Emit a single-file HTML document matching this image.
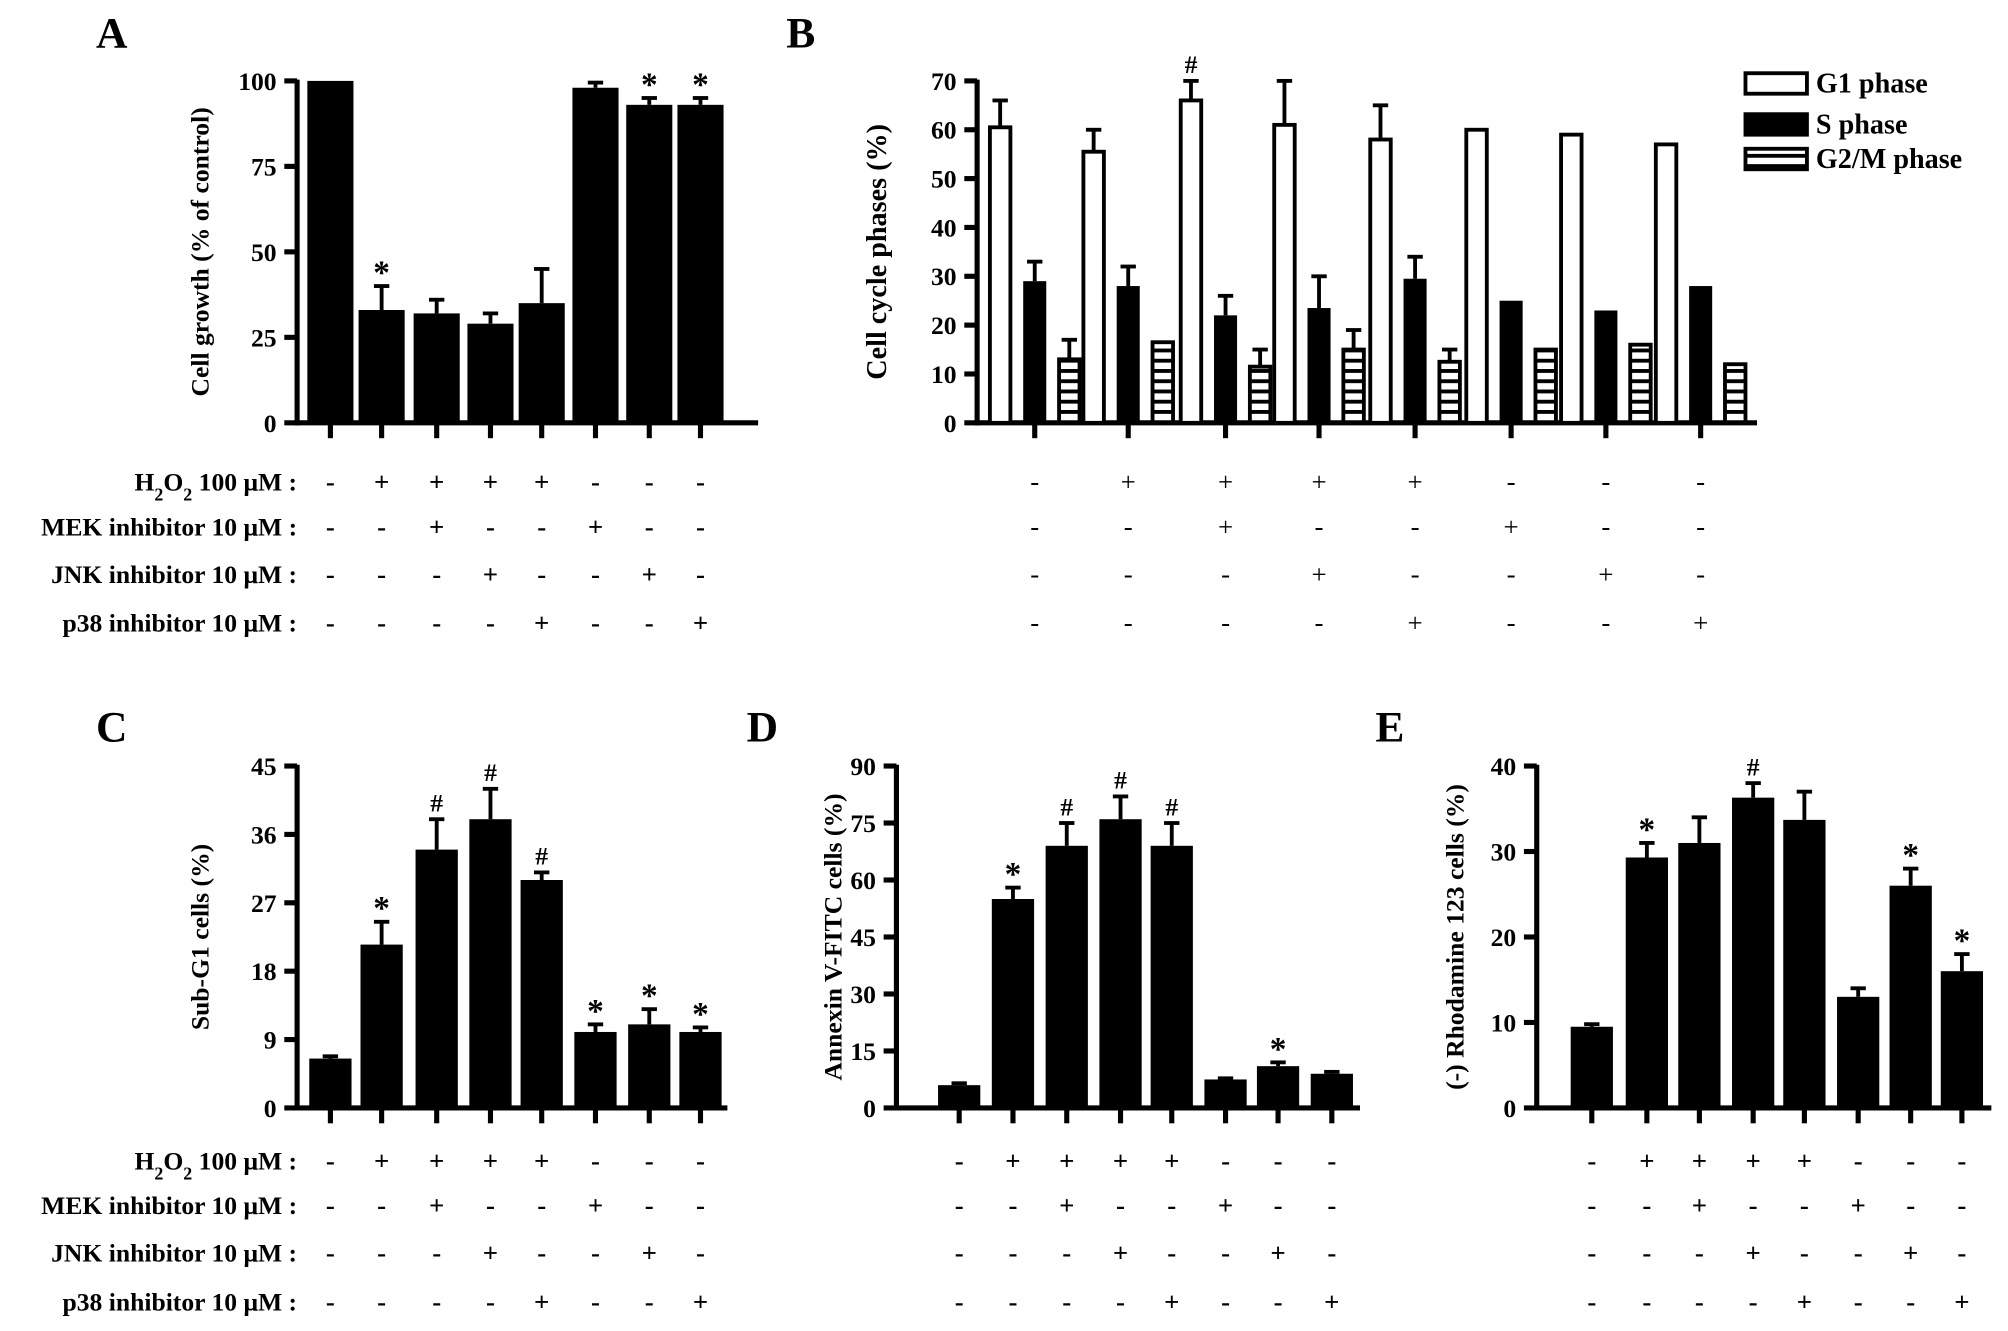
<!DOCTYPE html>
<html><head><meta charset="utf-8">
<style>
html,body{margin:0;padding:0;background:#fff;}
svg{display:block;font-family:"Liberation Serif",serif;font-weight:bold;}
</style></head>
<body>
<svg id="fig" width="2008" height="1331" viewBox="0 0 1568 1039" xmlns="http://www.w3.org/2000/svg"></svg>
<script>
// ---- data ----
const conditionLabels = ["H2O2 100 μM :", "MEK inhibitor 10 μM :", "JNK inhibitor 10 μM :", "p38 inhibitor 10 μM :"];
const h2o2Row = ["-","+","+","+","+","-","-","-"];
const mekRow  = ["-","-","+","-","-","+","-","-"];
const jnkRow  = ["-","-","-","+","-","-","+","-"];
const p38Row  = ["-","-","-","-","+","-","-","+"];

const aValues = [100, 33, 32, 29, 35, 98, 93, 93];
const aErrors = [0, 7, 4, 3, 10, 1.5, 2, 2];
const aMarks  = ["", "*", "", "", "", "", "*", "*"];
const aTicks  = [0, 25, 50, 75, 100];

const bG1 = [60.5, 55.5, 66, 61, 58, 60, 59, 57];
const bG1Err = [5.5, 4.5, 4, 9, 7, 0, 0, 0];
const bS = [29, 28, 22, 23.5, 29.5, 25, 23, 28];
const bSErr = [4, 4, 4, 6.5, 4.5, 0, 0, 0];
const bG2M = [13, 16.5, 11.5, 15, 12.5, 15, 16, 12];
const bG2MErr = [4, 0, 3.5, 4, 2.5, 0, 0, 0];
const bMarks = ["", "", "#", "", "", "", "", ""];
const bTicks = [0, 10, 20, 30, 40, 50, 60, 70];
const bSeries = ["G1 phase", "S phase", "G2/M phase"];

const cValues = [6.5, 21.5, 34, 38, 30, 10, 11, 10];
const cErrors = [0.3, 3, 4, 4, 1, 1, 2, 0.6];
const cMarks  = ["", "*", "#", "#", "#", "*", "*", "*"];
const cTicks  = [0, 9, 18, 27, 36, 45];

const dValues = [6, 55, 69, 76, 69, 7.5, 11, 9];
const dErrors = [0.5, 3, 6, 6, 6, 0.3, 1, 0.5];
const dMarks  = ["", "*", "#", "#", "#", "", "*", ""];
const dTicks  = [0, 15, 30, 45, 60, 75, 90];

const eValues = [9.5, 29.3, 31, 36.3, 33.7, 13, 26, 16];
const eErrors = [0.3, 1.7, 3, 1.7, 3.3, 1, 2, 2];
const eMarks  = ["", "*", "", "#", "", "", "*", "*"];
const eTicks  = [0, 10, 20, 30, 40];

// ---- drawing ----
const NS = "http://www.w3.org/2000/svg";
const svg = document.getElementById("fig");
function mk(tag, attrs, parent) {
  const e = document.createElementNS(NS, tag);
  for (const k in attrs) e.setAttribute(k, attrs[k]);
  (parent || svg).appendChild(e);
  return e;
}
function txt(x, y, s, size, anchor, parent) {
  const t = mk("text", {x: x, y: y, "font-size": size, "text-anchor": anchor || "middle"}, parent);
  t.textContent = s;
  return t;
}
function makeScale(d0, d1, r0, r1) { return v => r0 + (v - d0) / (d1 - d0) * (r1 - r0); }

function axes(g, x0, x1, yTop, yBot, ticks, ySc, centers, title, titleX, titleSize) {
  const ya = mk("line", {x1: x0, y1: yTop - 1, x2: x0, y2: yBot + 2, stroke: "#000", "stroke-width": 4}, g);
  
  
  const xa = mk("line", {x1: x0 - 2, y1: yBot, x2: x1, y2: yBot, stroke: "#000", "stroke-width": 4}, g);
  
  
  ticks.forEach(t => {
    const y = ySc(t);
    mk("line", {x1: x0 - 10, y1: y, x2: x0, y2: y, stroke: "#000", "stroke-width": 4}, g);
    const tl = txt(x0 - 16, y + 7, String(t), 20, "end", g);
    
    
  });
  centers.forEach(cx => mk("line", {x1: cx, y1: yBot, x2: cx, y2: yBot + 12, stroke: "#000", "stroke-width": 4}, g));
  const yt = txt(0, 0, title, titleSize || 20, "middle", g);
  yt.setAttribute("transform", "translate(" + titleX + "," + ((yTop + yBot) / 2) + ") rotate(-90)");
  
  
}

function bar(g, cx, w, v, err, ySc, fill, name) {
  const y0 = ySc(0), y = ySc(v);
  if (err > 0) {
    const ye = ySc(v + err);
    mk("line", {x1: cx, y1: y, x2: cx, y2: ye, stroke: "#000", "stroke-width": 3}, g);
    mk("line", {x1: cx - 6, y1: ye, x2: cx + 6, y2: ye, stroke: "#000", "stroke-width": 3}, g);
  }
  const r = mk("rect", {x: cx - w / 2, y: y, width: w, height: y0 - y, fill: fill, stroke: "#000", "stroke-width": fill === "#000" ? 0 : 3}, g);
  
  
  return r;
}

function mark(g, cx, v, err, ySc, m) {
  if (!m) return;
  const t = txt(cx, ySc(v + err) - (m === "*" ? 2 : 6), m, m === "*" ? 26 : 20, "middle", g);
  
  
}

function condRows(g, centers, rowYs, labelX, bold) {
  const rows = [h2o2Row, mekRow, jnkRow, p38Row];
  rows.forEach((row, i) => {
    if (labelX) {
      const t = mk("text", {x: labelX, y: rowYs[i] + 7, "font-size": 20, "text-anchor": "end"}, g);
      if (i === 0) {
        t.innerHTML = 'H<tspan baseline-shift="sub" font-size="14">2</tspan>O<tspan baseline-shift="sub" font-size="14">2</tspan> 100 μM :';
      } else t.textContent = conditionLabels[i];
      
      
    }
    row.forEach((s, j) => {
      const t = txt(centers[j], rowYs[i] + 7, s, 21, "middle", g);
      if (!bold) t.setAttribute("font-weight", "normal");
      
      
    });
  });
}

function simplePanel(opts) {
  const g = mk("g", {});
  
  
  const ySc = makeScale(0, opts.ticks[opts.ticks.length - 1], opts.yBot, opts.yTop);
  axes(g, opts.x0, opts.x1, opts.yTop, opts.yBot, opts.ticks, ySc, opts.centers, opts.title, opts.titleX);
  opts.values.forEach((v, i) => {
    bar(g, opts.centers[i], opts.w, v, opts.errors[i], ySc, "#000", "bar-" + (i + 1));
    mark(g, opts.centers[i], v, opts.errors[i], ySc, opts.marks[i]);
  });
  const L = txt(opts.letterX, opts.letterY, opts.letter, 34, "start", g);
  
  
  condRows(g, opts.centers, opts.rowYs, opts.labelX, true);
}

const topRows = [376, 411, 448, 486];
const botRows = [906, 941, 978, 1016];
const colA = [258, 298, 341, 383, 423, 465, 507, 547];

simplePanel({name: "panel-a-cell-growth", x0: 232, x1: 592, yTop: 63, yBot: 330, ticks: aTicks, values: aValues, errors: aErrors, marks: aMarks,
  centers: colA, w: 36, title: "Cell growth (% of control)", titleX: 163, letter: "A", letterX: 75, letterY: 37, rowYs: topRows, labelX: 232});
simplePanel({name: "panel-c-sub-g1", x0: 232, x1: 568, yTop: 598, yBot: 865, ticks: cTicks, values: cValues, errors: cErrors, marks: cMarks,
  centers: colA, w: 33, title: "Sub-G1 cells (%)", titleX: 163, letter: "C", letterX: 75, letterY: 579, rowYs: botRows, labelX: 232});
simplePanel({name: "panel-d-annexin", x0: 700, x1: 1062, yTop: 598, yBot: 865, ticks: dTicks, values: dValues, errors: dErrors, marks: dMarks,
  centers: [749, 791, 833, 875, 915, 957, 998, 1040], w: 33, title: "Annexin V-FITC cells (%)", titleX: 657, letter: "D", letterX: 583, letterY: 579, rowYs: botRows, labelX: null});
simplePanel({name: "panel-e-rhodamine", x0: 1200, x1: 1555, yTop: 598, yBot: 865, ticks: eTicks, values: eValues, errors: eErrors, marks: eMarks,
  centers: [1243, 1286, 1327, 1369, 1409, 1451, 1492, 1532], w: 33, title: "(-) Rhodamine 123 cells (%)", titleX: 1143, letter: "E", letterX: 1074, letterY: 579, rowYs: botRows, labelX: null});

// Panel B
(function () {
  const g = mk("g", {});
  
  
  const centers = [808, 881, 957, 1030, 1105, 1180, 1254, 1328];
  const ySc = makeScale(0, 70, 330, 63);
  axes(g, 763, 1372, 63, 330, bTicks, ySc, centers, "Cell cycle phases (%)", 692, 22);
  const defs = mk("defs", {}, g);
  const pat = mk("pattern", {id: "stripes", width: 8, height: 8, patternUnits: "userSpaceOnUse"}, defs);
  mk("rect", {x: 0, y: 0, width: 8, height: 8, fill: "#fff"}, pat);
  mk("rect", {x: 0, y: 0, width: 8, height: 3, fill: "#000"}, pat);
  const w = 16;
  centers.forEach((c, i) => {
    bar(g, c - 27, w, bG1[i], bG1Err[i], ySc, "#fff", "bar-g1-" + (i + 1));
    bar(g, c, w + 2, bS[i], bSErr[i], ySc, "#000", "bar-s-" + (i + 1));
    bar(g, c + 27, w, bG2M[i], bG2MErr[i], ySc, "url(#stripes)", "bar-g2m-" + (i + 1));
    mark(g, c - 27, bG1[i], bG1Err[i], ySc, bMarks[i]);
  });
  const L = txt(614, 37, "B", 34, "start", g);
  
  
  const fills = ["#fff", "#000", "url(#stripes)"];
  const ys = [65, 97, 124];
  bSeries.forEach((s, i) => {
    const le = mk("g", {}, g);
    
    
    mk("rect", {x: 1363, y: ys[i] - 8, width: 48, height: 16, fill: fills[i], stroke: "#000", "stroke-width": 3}, le);
    txt(1418, ys[i] + 7, s, 22, "start", le);
  });
  condRows(g, centers, topRows, null, false);
})();
</script>
</body></html>
